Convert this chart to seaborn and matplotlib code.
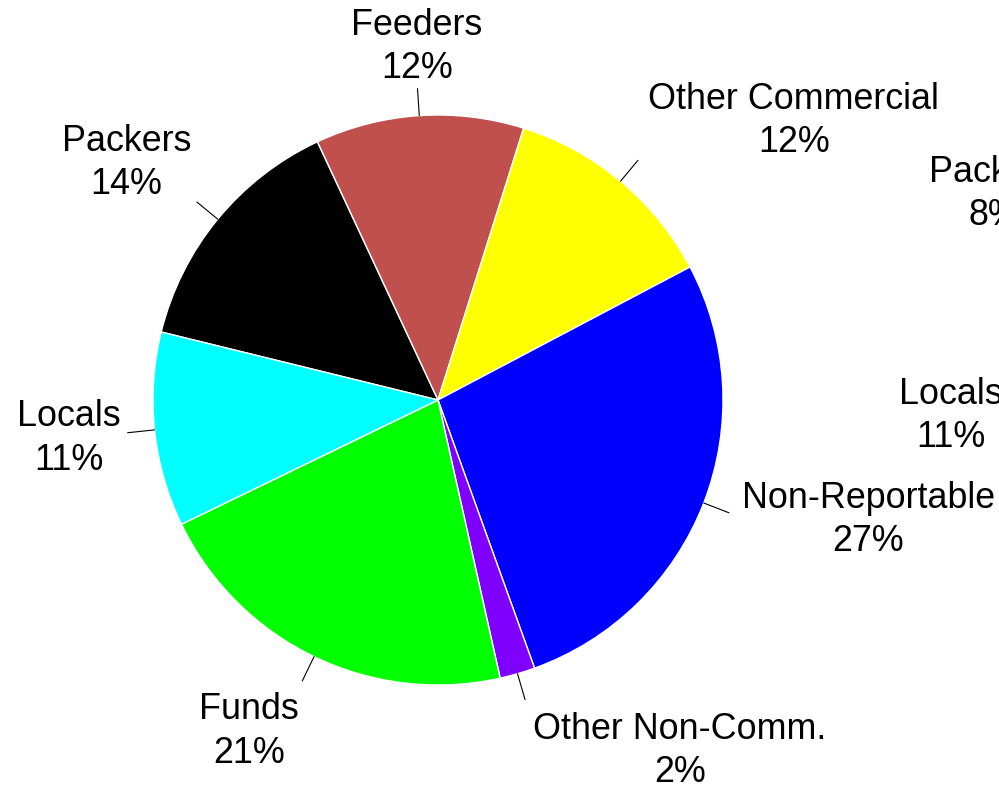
import numpy as np
import matplotlib
matplotlib.use("Agg")
import matplotlib.pyplot as plt
import seaborn as sns

# ---- data ----
categories = ["Packers", "Feeders", "Other Commercial", "Non-Reportable",
              "Other Non-Comm.", "Funds", "Locals"]
values = [14.2, 11.8, 12.4, 27.2, 2.0, 21.3, 11.0]
colors = ["#000000", "#C0504D", "#FFFF00", "#0000FF", "#8000FF", "#00FF00", "#00FFFF"]

# labels of a neighbouring pie that is cut off at the right edge
side_labels = ["Packers", "Locals"]
side_values = [8, 11]

sns.set_theme(style="white")
plt.rcParams["font.family"] = ["Liberation Sans", "DejaVu Sans"]

W, H = 999, 786
fig = plt.figure(figsize=(W / 100, H / 100), dpi=100)
fig.patch.set_facecolor("white")

cx, cy, r = 438, 400, 285
ax = fig.add_axes([(cx - r) / W, (H - cy - r) / H, 2 * r / W, 2 * r / H])
wedges, _ = ax.pie(values, colors=colors, startangle=166.2, counterclock=False,
                   radius=1.0, wedgeprops=dict(edgecolor="white", linewidth=1.0))
ax.set_xlim(-1, 1)
ax.set_ylim(-1, 1)
ax.set_aspect("equal")
ax.axis("off")

total = sum(values)
fs = 25.8
ls = 1.3
for w, cat, v in zip(wedges, categories, values):
    mid = np.deg2rad((w.theta1 + w.theta2) / 2)
    dx, dy = np.cos(mid), np.sin(mid)
    ax.plot([dx * 1.0, dx * 1.095], [dy * 1.0, dy * 1.095], color="black",
            lw=0.8, clip_on=False)
    ha = "left" if dx > 0.2 else ("right" if dx < -0.2 else "center")
    va = "bottom" if dy > 0.4 else ("top" if dy < -0.4 else "center")
    ox = 6 if ha == "left" else 0
    pct = int(round(v / total * 100))
    ax.annotate(f"{cat}\n{pct}%", xy=(dx * 1.12, dy * 1.12), xytext=(ox, -5),
                textcoords="offset pixels", ha=ha, va=va,
                multialignment="center", fontsize=fs, color="black",
                linespacing=ls, annotation_clip=False)

# cut-off labels from the neighbouring chart
side_x = [994, 951]
side_y = [194, 416]
for lab, val, sx, sy in zip(side_labels, side_values, side_x, side_y):
    fig.text(sx / W, 1 - sy / H, f"{lab}\n{val}%", ha="center", va="center",
             multialignment="center", fontsize=fs, color="black", linespacing=ls)

fig.savefig("out.png", dpi=100, facecolor="white")
